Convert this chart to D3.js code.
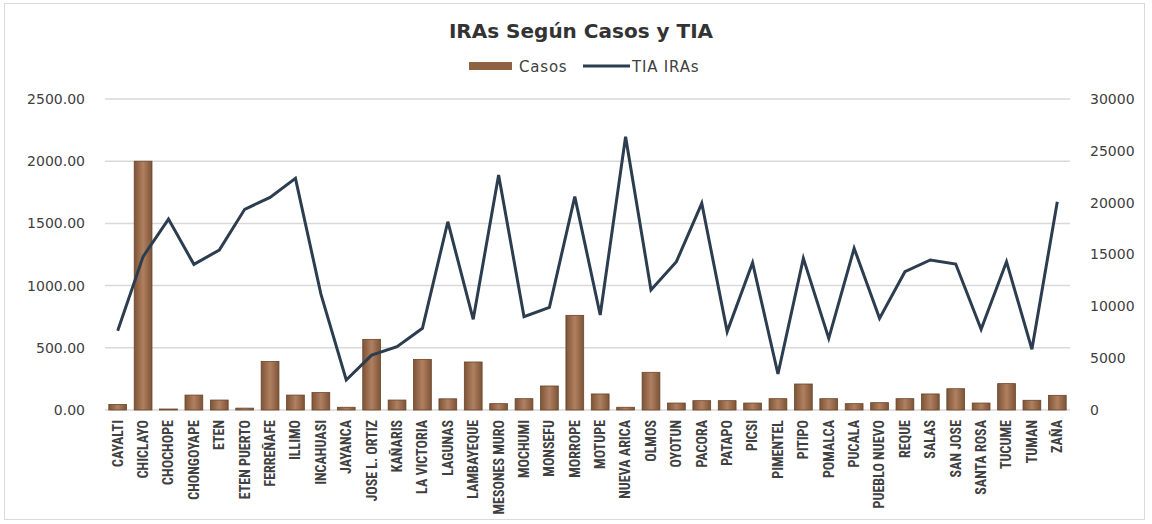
<!DOCTYPE html>
<html>
<head>
<meta charset="utf-8">
<script src="https://cdn.jsdelivr.net/npm/d3@7"></script>
<style>
body{margin:0;background:#fff;}
svg{display:block;font-family:"DejaVu Sans",sans-serif;}
.tick text{fill:#404040;}
</style>
</head>
<body>
<svg id="chart" width="1152" height="524"></svg>
<script>
const districts = ["CAYALTI","CHICLAYO","CHOCHOPE","CHONGOYAPE","ETEN","ETEN PUERTO","FERREÑAFE","ILLIMO","INCAHUASI","JAYANCA","JOSE L. ORTIZ","KAÑARIS","LA VICTORIA","LAGUNAS","LAMBAYEQUE","MESONES MURO","MOCHUMI","MONSEFU","MORROPE","MOTUPE","NUEVA ARICA","OLMOS","OYOTUN","PACORA","PATAPO","PICSI","PIMENTEL","PITIPO","POMALCA","PUCALA","PUEBLO NUEVO","REQUE","SALAS","SAN JOSE","SANTA ROSA","TUCUME","TUMAN","ZAÑA"];
const casos = [45,2000,8,120,80,15,390,120,140,22,568,80,407,90,386,51,91,193,761,129,22,303,56,75,75,56,91,209,91,51,59,91,129,171,56,212,78,118];
const tia = [7650,14800,18420,14050,15430,19360,20510,22350,11200,2890,5300,6110,7880,18160,8750,22670,9000,9900,20580,9160,26370,11580,14310,19940,7560,14210,3470,14630,6910,15600,8840,13340,14470,14080,7780,14310,5850,20100];
const leftTicks = [0,500,1000,1500,2000,2500];
const rightTicks = [0,5000,10000,15000,20000,25000,30000];

const svg = d3.select("#chart"),
margin = {top:99,right:82,bottom:114,left:105},
width = +svg.attr("width") - margin.left - margin.right,
height = +svg.attr("height") - margin.top - margin.bottom;

// outer frame
svg.append("rect")
.attr("x",4.5).attr("y",3.5).attr("width",1140).attr("height",516)
.attr("fill","none").attr("stroke","#d9d9d9");

const g = svg.append("g")
.attr("transform",`translate(${margin.left},${margin.top})`);

const x = d3.scaleBand().domain(districts).range([0,width]).paddingInner(0.3).paddingOuter(0.15);
const y = d3.scaleLinear().domain([0,2500]).range([height,0]);
const y2 = d3.scaleLinear().domain([0,30000]).range([height,0]);

// gridlines
g.append("g")
.selectAll("line")
.data(leftTicks)
.join("line")
.attr("x1",0).attr("x2",width)
.attr("y1",d=>y(d)).attr("y2",d=>y(d))
.attr("stroke","#d9d9d9").attr("stroke-width",1.5);

const yAxisGroup = g.append("g")
.call(d3.axisLeft(y).tickValues(leftTicks).tickFormat(d3.format(".2f")).tickSize(0).tickPadding(20));
yAxisGroup.select(".domain").remove();
yAxisGroup.selectAll("text").attr("font-size",14).attr("font-family","'DejaVu Sans',sans-serif");

const y2AxisGroup = g.append("g")
.attr("transform",`translate(${width},0)`)
.call(d3.axisRight(y2).tickValues(rightTicks).tickFormat(d3.format("d")).tickSize(0).tickPadding(20));
y2AxisGroup.select(".domain").remove();
y2AxisGroup.selectAll("text").attr("font-size",14).attr("font-family","'DejaVu Sans',sans-serif");

// bar gradient
const grad = svg.append("defs").append("linearGradient").attr("id","barGrad");
grad.append("stop").attr("offset","0%").attr("stop-color","#7d5437");
grad.append("stop").attr("offset","50%").attr("stop-color","#b08060");
grad.append("stop").attr("offset","100%").attr("stop-color","#7d5437");

g.selectAll("rect.bar")
.data(districts)
.join("rect")
.attr("class","bar")
.attr("x",d=>x(d))
.attr("width",x.bandwidth())
.attr("y",(d,i)=>y(casos[i]))
.attr("height",(d,i)=>height - y(casos[i]))
.attr("fill","url(#barGrad)")
.attr("stroke","#6b4529").attr("stroke-width",0.8);

const tiaLine = d3.line()
.x((d,i)=>x(districts[i]) + x.bandwidth()/2)
.y(d=>y2(d));

g.append("path")
.datum(tia)
.attr("d",tiaLine)
.attr("fill","none")
.attr("stroke","#2b3d4f")
.attr("stroke-width",3)
.attr("stroke-linejoin","miter");

// x labels
const xAxisGroup = g.append("g")
.attr("transform",`translate(0,${height})`)
.call(d3.axisBottom(x).tickSize(0));
xAxisGroup.select(".domain").remove();
xAxisGroup.selectAll("text")
.attr("transform","rotate(-90)")
.attr("x",-10).attr("y",0).attr("dy","0.35em")
.attr("text-anchor","end")
.attr("font-family","'Liberation Sans Narrow','Roboto Condensed','DejaVu Sans Condensed',sans-serif")
.attr("font-size",14)
.attr("font-weight","bold")
.attr("fill","#262626");

// title
svg.append("text")
.attr("x",581).attr("y",38)
.attr("text-anchor","middle")
.attr("font-size",20).attr("font-weight","bold")
.attr("fill","#333333")
.text("IRAs Según Casos y TIA");

// legend
const legend = svg.append("g").attr("transform","translate(469,66)");
legend.append("rect").attr("x",0).attr("y",-4).attr("width",43).attr("height",8).attr("fill","#8e6242");
legend.append("text").attr("x",50).attr("y",5.5).attr("font-size",15).attr("letter-spacing",0.8).attr("fill","#404040").text("Casos");
legend.append("line").attr("x1",114).attr("x2",161).attr("y1",0).attr("y2",0).attr("stroke","#2b3d4f").attr("stroke-width",3);
legend.append("text").attr("x",163).attr("y",5.5).attr("font-size",15).attr("letter-spacing",0.8).attr("fill","#404040").text("TIA IRAs");
</script>
</body>
</html>
